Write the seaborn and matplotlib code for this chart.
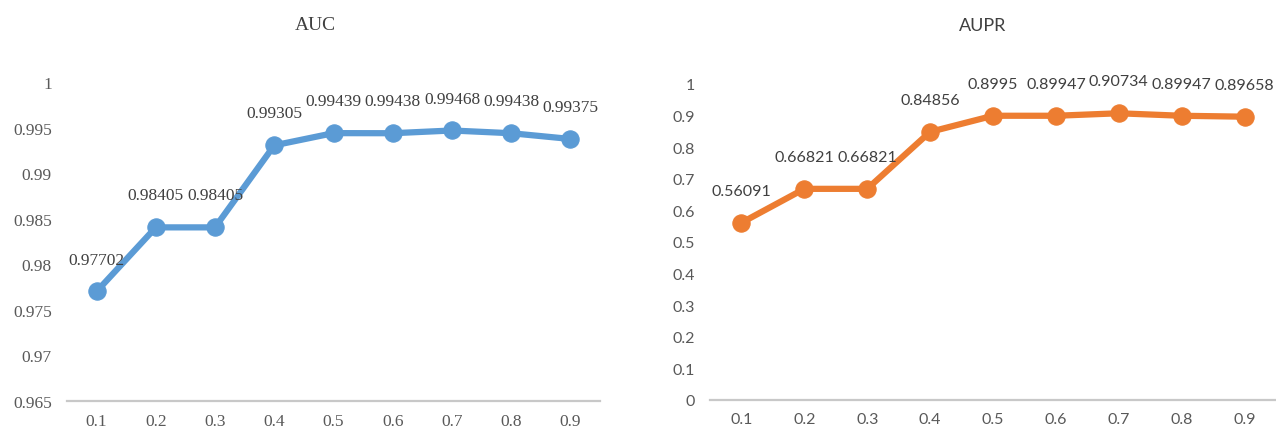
import matplotlib
matplotlib.use("Agg")
import matplotlib.pyplot as plt
import seaborn as sns
import pandas as pd

thresholds = ["0.1", "0.2", "0.3", "0.4", "0.5", "0.6", "0.7", "0.8", "0.9"]
auc = [0.97702, 0.98405, 0.98405, 0.99305, 0.99439, 0.99438, 0.99468, 0.99438, 0.99375]
auc_labels = ["0.97702", "0.98405", "0.98405", "0.99305", "0.99439", "0.99438", "0.99468", "0.99438", "0.99375"]
aupr = [0.56091, 0.66821, 0.66821, 0.84856, 0.8995, 0.89947, 0.90734, 0.89947, 0.89658]
aupr_labels = ["0.56091", "0.66821", "0.66821", "0.84856", "0.8995", "0.89947", "0.90734", "0.89947", "0.89658"]
auc_ticks = [0.965, 0.97, 0.975, 0.98, 0.985, 0.99, 0.995, 1.0]
auc_ticklabels = ["0.965", "0.97", "0.975", "0.98", "0.985", "0.99", "0.995", "1"]
aupr_ticks = [0, 0.1, 0.2, 0.3, 0.4, 0.5, 0.6, 0.7, 0.8, 0.9, 1.0]
aupr_ticklabels = ["0", "0.1", "0.2", "0.3", "0.4", "0.5", "0.6", "0.7", "0.8", "0.9", "1"]

sns.set_theme(style="white")

BLUE = "#5B9BD5"
ORANGE = "#ED7D31"
TICK = "#595959"
AXIS = "#C8C8C8"
SERIF = ["Liberation Serif", "DejaVu Serif"]
SANS = ["Lato", "Open Sans", "DejaVu Sans"]

fig = plt.figure(figsize=(12.76, 4.31), dpi=100)
ax1 = fig.add_axes([67 / 1276, 29 / 431, 533 / 1276, 319 / 431])
ax2 = fig.add_axes([710 / 1276, 30 / 431, 566 / 1276, 316 / 431])


def draw(ax, values, labels, color, ylim, ticks, ticklabels, family, fsize,
         title, title_x):
    df = pd.DataFrame({"threshold": thresholds, "value": values})
    sns.lineplot(data=df, x="threshold", y="value", ax=ax, color=color,
                 linewidth=4.5, marker="o", markersize=12.5,
                 markeredgecolor=color, sort=False, clip_on=False)
    ax.set_xlim(-0.5, len(thresholds) - 0.5)
    ax.set_ylim(*ylim)
    ax.set_yticks(ticks)
    ax.set_yticklabels(ticklabels, family=family, fontsize=fsize, color=TICK)
    ax.set_xticks(range(len(thresholds)))
    ax.set_xticklabels(thresholds, family=family, fontsize=fsize, color=TICK)
    ax.tick_params(axis="both", length=0)
    ax.tick_params(axis="y", pad=11)
    ax.tick_params(axis="x", pad=9)
    ax.set_xlabel("")
    ax.set_ylabel("")
    for side in ("top", "right", "left"):
        ax.spines[side].set_visible(False)
    ax.spines["bottom"].set_color(AXIS)
    ax.spines["bottom"].set_linewidth(1.6)
    ax.grid(False)
    for i, (v, lab) in enumerate(zip(values, labels)):
        ax.annotate(lab, (i, v), xytext=(0, 23), textcoords="offset points",
                    ha="center", va="center", fontsize=fsize, color="#404040",
                    family=family)
    fig.text(title_x / 1276, 1 - 26 / 431, title, ha="center", va="center",
             fontsize=fsize + 1.5, color="#404040", family=family)


draw(ax1, auc, auc_labels, BLUE, (0.965, 1.0), auc_ticks, auc_ticklabels,
     SERIF, 12.5, "AUC", 315)
draw(ax2, aupr, aupr_labels, ORANGE, (0.0, 1.0), aupr_ticks, aupr_ticklabels,
     SANS, 11.5, "AUPR", 983)

fig.savefig("out.png", dpi=100, facecolor="white")
